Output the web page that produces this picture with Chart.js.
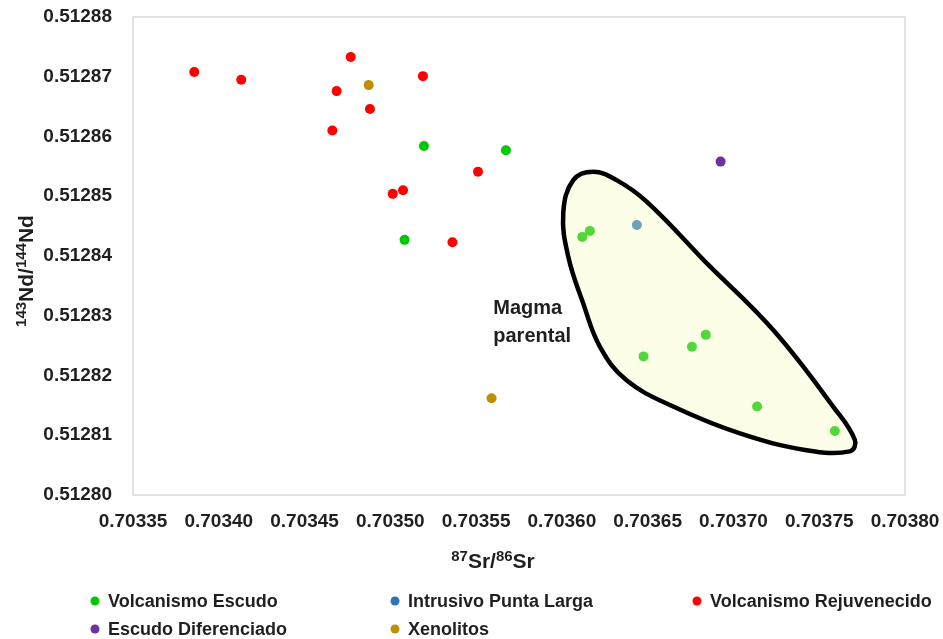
<!DOCTYPE html>
<html>
<head>
<meta charset="utf-8">
<script src="https://cdn.jsdelivr.net/npm/chart.js@4.4.1/dist/chart.umd.min.js"></script>
<style>
  html, body { margin: 0; padding: 0; background: #fff; }
</style>
</head>
<body>
<canvas id="grafico" width="943" height="639"></canvas>
<script>
// Datos (87Sr/86Sr en x, 143Nd/144Nd en y)
const escudoX = [0.7035196, 0.7035083, 0.7035674, 0.7036119, 0.7036163, 0.7036476, 0.7036758, 0.7036839, 0.7037138, 0.7037591];
const escudoY = [0.5128584, 0.5128427, 0.5128577, 0.5128432, 0.5128442, 0.5128232, 0.5128248, 0.5128268, 0.5128148, 0.5128107];

const intrusivoX = [0.7036437];
const intrusivoY = [0.5128452];

const rejuvX = [0.7033857, 0.7034131, 0.7034769, 0.7034687, 0.7034881, 0.7034662, 0.7035190, 0.7035014, 0.7035074, 0.7035362, 0.7035511];
const rejuvY = [0.5128708, 0.5128695, 0.5128733, 0.5128676, 0.5128646, 0.5128610, 0.5128701, 0.5128504, 0.5128510, 0.5128423, 0.5128541];

const diferenciadoX = [0.7036925];
const diferenciadoY = [0.5128558];

const xenolitosX = [0.7034874, 0.7035590];
const xenolitosY = [0.5128686, 0.5128162];

// Contorno del campo "Magma parental" (en unidades de los ejes), cerrado
const magmaX = [0.7036844, 0.7036494, 0.7036319, 0.7036183, 0.7036066, 0.7036008, 0.7036037, 0.7036124, 0.7036222, 0.7036377, 0.7036649, 0.7037038, 0.7037426, 0.7037679, 0.7037708, 0.7037581, 0.7037232, 0.7036844];
const magmaY = [0.5128388, 0.5128491, 0.5128527, 0.5128541, 0.5128527, 0.5128472, 0.5128399, 0.5128321, 0.5128248, 0.5128192, 0.5128148, 0.5128103, 0.5128075, 0.5128073, 0.5128092, 0.5128148, 0.5128276, 0.5128388];
const magmaEtiqueta = { x: 0.70356, y: 0.5128303, lineas: ["Magma", "parental"] };

// Ejes
const xMin = 0.70335, xMax = 0.70380, xPaso = 0.00005;
const yMin = 0.51280, yMax = 0.51288, yPaso = 0.00001;

const FUENTE = "'Liberation Sans', Arial, sans-serif";
const TEXTO = "#1f1f1f";

function puntos(xs, ys) {
  return xs.map((x, i) => ({ x: x, y: ys[i] }));
}

function serie(nombre, xs, ys, color) {
  return {
    label: nombre,
    data: puntos(xs, ys),
    backgroundColor: color,
    borderColor: color,
    pointRadius: 5,
    pointHoverRadius: 5,
    pointBorderWidth: 0,
    showLine: false,
    order: 1
  };
}

// Texto con superíndices: partes = [[texto, esSuper], ...]
function textoRico(ctx, partes, x, y, tam, tamSup, subida) {
  let total = 0;
  partes.forEach(p => {
    ctx.font = "bold " + (p[1] ? tamSup : tam) + "px " + FUENTE;
    total += ctx.measureText(p[0]).width;
  });
  let cx = x - total / 2;
  ctx.textAlign = "left";
  ctx.textBaseline = "alphabetic";
  partes.forEach(p => {
    ctx.font = "bold " + (p[1] ? tamSup : tam) + "px " + FUENTE;
    ctx.fillText(p[0], cx, p[1] ? y - subida : y);
    cx += ctx.measureText(p[0]).width;
  });
}

const extras = {
  id: "extras",
  beforeDatasetsDraw(chart) {
    const a = chart.chartArea;
    const ctx = chart.ctx;
    ctx.save();
    ctx.strokeStyle = "#d9d9d9";
    ctx.lineWidth = 1.5;
    ctx.strokeRect(a.left, a.top, a.right - a.left, a.bottom - a.top);
    ctx.restore();
  },
  afterDatasetsDraw(chart) {
    const ctx = chart.ctx;
    const sx = chart.scales.x, sy = chart.scales.y;
    ctx.save();
    ctx.fillStyle = TEXTO;
    ctx.font = "bold 20px " + FUENTE;
    ctx.textAlign = "left";
    ctx.textBaseline = "alphabetic";
    const px = sx.getPixelForValue(magmaEtiqueta.x);
    const py = sy.getPixelForValue(magmaEtiqueta.y);
    magmaEtiqueta.lineas.forEach((t, i) => ctx.fillText(t, px, py + i * 28));
    ctx.restore();
  },
  afterDraw(chart) {
    const ctx = chart.ctx;
    ctx.save();
    ctx.fillStyle = TEXTO;
    // título eje x
    textoRico(ctx, [["87", true], ["Sr/", false], ["86", true], ["Sr", false]], 493, 568, 21, 15, 7);
    // título eje y
    ctx.save();
    ctx.translate(33, 271);
    ctx.rotate(-Math.PI / 2);
    textoRico(ctx, [["143", true], ["Nd/", false], ["144", true], ["Nd", false]], 0, 0, 21, 15, 7);
    ctx.restore();
    // leyenda en cuadrícula (como Excel)
    const huecos = [[95, 601], [395, 601], [697, 601], [95, 629], [395, 629]];
    const series = chart.data.datasets.filter(d => d.label);
    ctx.font = "bold 18px " + FUENTE;
    ctx.textBaseline = "middle";
    ctx.textAlign = "left";
    series.forEach((d, i) => {
      const h = huecos[i];
      ctx.fillStyle = d.backgroundColor;
      ctx.beginPath();
      ctx.arc(h[0], h[1], 4.5, 0, Math.PI * 2);
      ctx.fill();
      ctx.fillStyle = TEXTO;
      ctx.fillText(d.label, h[0] + 13, h[1] + 1);
    });
    ctx.restore();
  }
};

const ctx = document.getElementById("grafico").getContext("2d");
new Chart(ctx, {
  type: "scatter",
  data: {
    datasets: [
      serie("Volcanismo Escudo", escudoX, escudoY, "#00c800"),
      serie("Intrusivo Punta Larga", intrusivoX, intrusivoY, "#2e75b6"),
      serie("Volcanismo Rejuvenecido", rejuvX, rejuvY, "#ff0000"),
      serie("Escudo Diferenciado", diferenciadoX, diferenciadoY, "#7030a0"),
      serie("Xenolitos", xenolitosX, xenolitosY, "#bf8f00"),
      {
        label: "",
        data: puntos(magmaX, magmaY),
        showLine: true,
        tension: 0.4,
        fill: "shape",
        backgroundColor: "rgba(250, 252, 180, 0.32)",
        borderColor: "#000",
        borderWidth: 4.5,
        pointRadius: 0,
        pointHoverRadius: 0,
        order: 0
      }
    ]
  },
  options: {
    responsive: false,
    animation: false,
    layout: { padding: { top: 17, right: 38, bottom: 0, left: 0 } },
    plugins: {
      legend: { display: false },
      tooltip: { enabled: false }
    },
    scales: {
      x: {
        type: "linear",
        min: xMin,
        max: xMax,
        afterFit(scale) {
          scale.height = 144;
          scale.paddingLeft = 0;
          scale.paddingRight = 0;
        },
        grid: { display: false, drawTicks: false },
        border: { display: false },
        ticks: {
          stepSize: xPaso,
          padding: 15,
          color: TEXTO,
          font: { family: FUENTE, size: 19, weight: "bold" },
          callback: v => v.toFixed(5)
        }
      },
      y: {
        type: "linear",
        min: yMin,
        max: yMax,
        afterFit(scale) {
          scale.width = 133;
          scale.paddingTop = 0;
          scale.paddingBottom = 0;
        },
        grid: { display: false, drawTicks: false },
        border: { display: false },
        ticks: {
          stepSize: yPaso,
          padding: 21,
          color: TEXTO,
          font: { family: FUENTE, size: 19, weight: "bold" },
          callback: v => v.toFixed(5)
        }
      }
    }
  },
  plugins: [extras]
});
</script>
</body>
</html>
